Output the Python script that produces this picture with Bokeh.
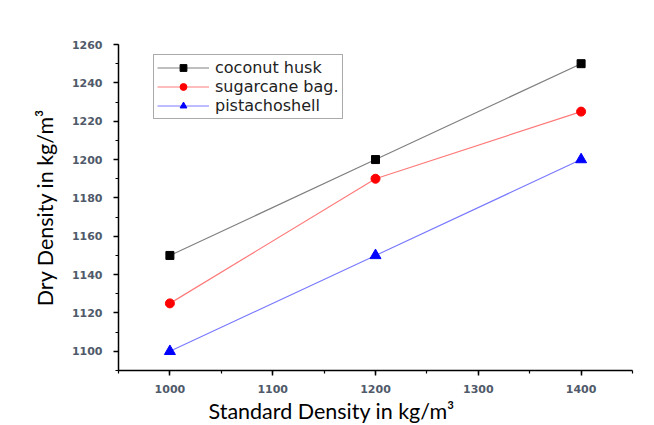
from bokeh.plotting import figure
from bokeh.embed import file_html
from bokeh.resources import INLINE
from bokeh.models import Range1d, SingleIntervalTicker, Legend, Title

std_density = [1000, 1200, 1400]
coconut_husk = [1150, 1200, 1250]
sugarcane_bag = [1125, 1190, 1225]
pistachio_shell = [1100, 1150, 1200]

x_ticks = [1000, 1100, 1200, 1300, 1400]
y_ticks = [1100, 1120, 1140, 1160, 1180, 1200, 1220, 1240, 1260]
x_label = "Standard Density in kg/m³"
y_label = "Dry Density in kg/m³"

p = figure(width=654, height=425, output_backend="svg", toolbar_location=None,
           x_range=Range1d(950, 1450), y_range=Range1d(1090, 1260),
           min_border_left=118, min_border_right=22, min_border_top=44, min_border_bottom=55)
p.outline_line_color = None
p.xgrid.visible = False
p.ygrid.visible = False
p.background_fill_color = "white"
p.border_fill_color = "white"

series = [
    (coconut_husk, "coconut husk", "#808080", "black", "square", 8),
    (sugarcane_bag, "sugarcane bag.", "#ff7a7a", "red", "circle", 9),
    (pistachio_shell, "pistachoshell", "#7a7aff", "blue", "triangle", 11),
]
items = []
for ys, name, lc, mc, mk, sz in series:
    r1 = p.line(std_density, ys, line_color=lc, line_width=1.2)
    r2 = p.scatter(std_density, ys, marker=mk, size=sz, fill_color=mc, line_color=mc)
    items.append((name, [r1, r2]))

legend = Legend(items=items, location=(35, 251))
legend.label_text_font = "DejaVu Sans"
legend.label_text_font_size = "16px"
legend.label_text_color = "#222222"
legend.border_line_color = "#555555"
legend.border_line_width = 1
legend.padding = 3
legend.spacing = 0
legend.label_height = 17
legend.glyph_height = 17
legend.glyph_width = 52
legend.label_standoff = 6
legend.margin = 0
p.add_layout(legend, "center")

for ax in (p.xaxis[0], p.yaxis[0]):
    ax.axis_line_color = "black"
    ax.axis_line_width = 1.5
    ax.major_tick_line_color = "black"
    ax.major_tick_line_width = 1.5
    ax.minor_tick_line_color = "black"
    ax.minor_tick_line_width = 1.2
    ax.major_tick_out = 5
    ax.major_tick_in = 0
    ax.minor_tick_out = 3
    ax.minor_tick_in = 0
    ax.major_label_text_font = "DejaVu Sans"
    ax.major_label_text_font_style = "bold"
    ax.major_label_text_font_size = "11px"
    ax.major_label_text_color = "#505a6a"
    ax.axis_label_text_font = "Lato"
    ax.axis_label_text_font_style = "normal"
    ax.axis_label_text_font_size = "21.5px"
    ax.axis_label_text_color = "black"

p.xaxis[0].ticker = SingleIntervalTicker(interval=100, num_minor_ticks=2)
p.yaxis[0].ticker = SingleIntervalTicker(interval=20, num_minor_ticks=2)
p.yaxis[0].axis_label = y_label
p.xaxis[0].major_label_standoff = 9
p.yaxis[0].major_label_standoff = 11
p.yaxis[0].axis_label_standoff = 11

xt = Title(text=x_label, align="left", offset=90, standoff=0,
           text_font="Lato", text_font_size="21.5px", text_font_style="normal",
           text_color="black")
p.add_layout(xt, "below")

open("out.html", "w").write(file_html(p, INLINE))
